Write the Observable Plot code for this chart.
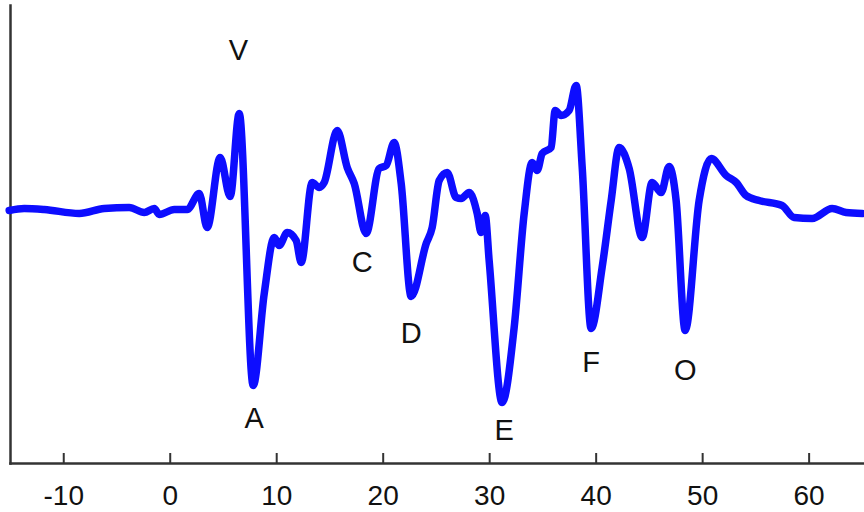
<!DOCTYPE html>
<html>
<head>
<meta charset="utf-8">
<script src="https://cdn.jsdelivr.net/npm/d3@7"></script>
<script src="https://cdn.jsdelivr.net/npm/@observablehq/plot@0.6"></script>
<style>
  html, body { margin: 0; padding: 0; background: #fff; }
  #chart svg { display: block; }
</style>
</head>
<body>
<div id="chart"></div>
<script>
// Trace (time-like x, arbitrary amplitude y)
const traceX = [-15.12, -13.71, -11.83, -8.54, -6.20, -3.85, -2.44, -1.50, -1.03, 0.38, 1.60,
  2.72, 3.47, 4.69, 5.63, 6.48, 7.79, 8.83, 9.77, 10.23, 10.99, 11.83, 12.30, 13.33, 13.99, 14.46,
  15.68, 16.62, 17.28, 18.40, 19.62, 20.28, 21.03, 21.69, 22.63, 24.04, 24.60, 25.26, 26.01, 26.85,
  27.32, 28.08, 28.83, 29.20, 29.58, 29.95, 31.17, 32.30, 33.24, 33.99, 34.46, 34.93, 35.77, 36.15,
  36.71, 37.46, 38.12, 38.69, 39.53, 40.56, 41.41, 42.16, 43.10, 44.32, 45.26, 46.10, 46.85, 47.51,
  48.36, 49.67, 50.80, 52.21, 53.15, 54.08, 55.31, 57.46, 58.59, 60.28, 62.16, 63.47, 64.98];
const traceY = [0, 2, 1, -3, 2, 3, -2, 2, -4, 1, 1,
  17, -17, 53, 14, 97, -175, -83, -27, -35, -22, -30, -52, 28, 23, 28,
  80, 43, 27, -23, 42, 45, 68, 27, -86, -33, -17, 30, 38, 13,
  12, 18, -3, -22, -5, -50, -192, -117, -3, 48, 40, 57, 63, 100,
  95, 100, 125, 43, -118, -57, 10, 63, 42, -27, 28, 18, 44, 10,
  -120, 10, 52, 35, 28, 15, 10, 5, -7, -8, 2, -2, -3];

// Peak labels
const labelText = ["V", "A", "C", "D", "E", "F", "O"];
const labelX = [6.4, 7.89, 18.03, 22.63, 31.36, 39.53, 48.36];
const labelY = [160, -208, -52, -123, -220, -152, -160];

// Axis ticks
const xTicks = [-10, 0, 10, 20, 30, 40, 50, 60];

const yMin = -253, yMax = 205;
const trace = traceX.map((x, i) => ({x, y: traceY[i]}));
const labels = labelText.map((t, i) => ({t, x: labelX[i], y: labelY[i]}));

const chart = Plot.plot({
  width: 864,
  height: 512,
  marginLeft: 10,
  marginRight: 0,
  marginTop: 5,
  marginBottom: 49,
  style: {fontFamily: "'Liberation Sans', Arial, sans-serif", background: "#fff"},
  x: {domain: [-15.0, 65.2]},
  y: {domain: [yMin, yMax]},
  marks: [
    Plot.axisY({ticks: [], label: null}),
    Plot.axisX(xTicks, {tickSize: 0, tickPadding: 22, fontSize: 28, fill: "#111", label: null, tickFormat: d => String(d)}),
    Plot.ruleX(xTicks, {x: d => d, y1: () => yMin, y2: () => yMin + 10, stroke: "#333", strokeWidth: 2}),
    Plot.frame({anchor: "left", stroke: "#333", strokeWidth: 2.5}),
    Plot.frame({anchor: "bottom", stroke: "#333", strokeWidth: 2.5}),
    Plot.line(trace, {x: "x", y: "y", stroke: "#0d0dff", strokeWidth: 7.5, curve: "monotone-x", strokeLinejoin: "round", strokeLinecap: "round"}),
    Plot.text(labels, {x: "x", y: "y", text: "t", fontSize: 29, fill: "#111"})
  ]
});
document.getElementById("chart").append(chart);
</script>
</body>
</html>
